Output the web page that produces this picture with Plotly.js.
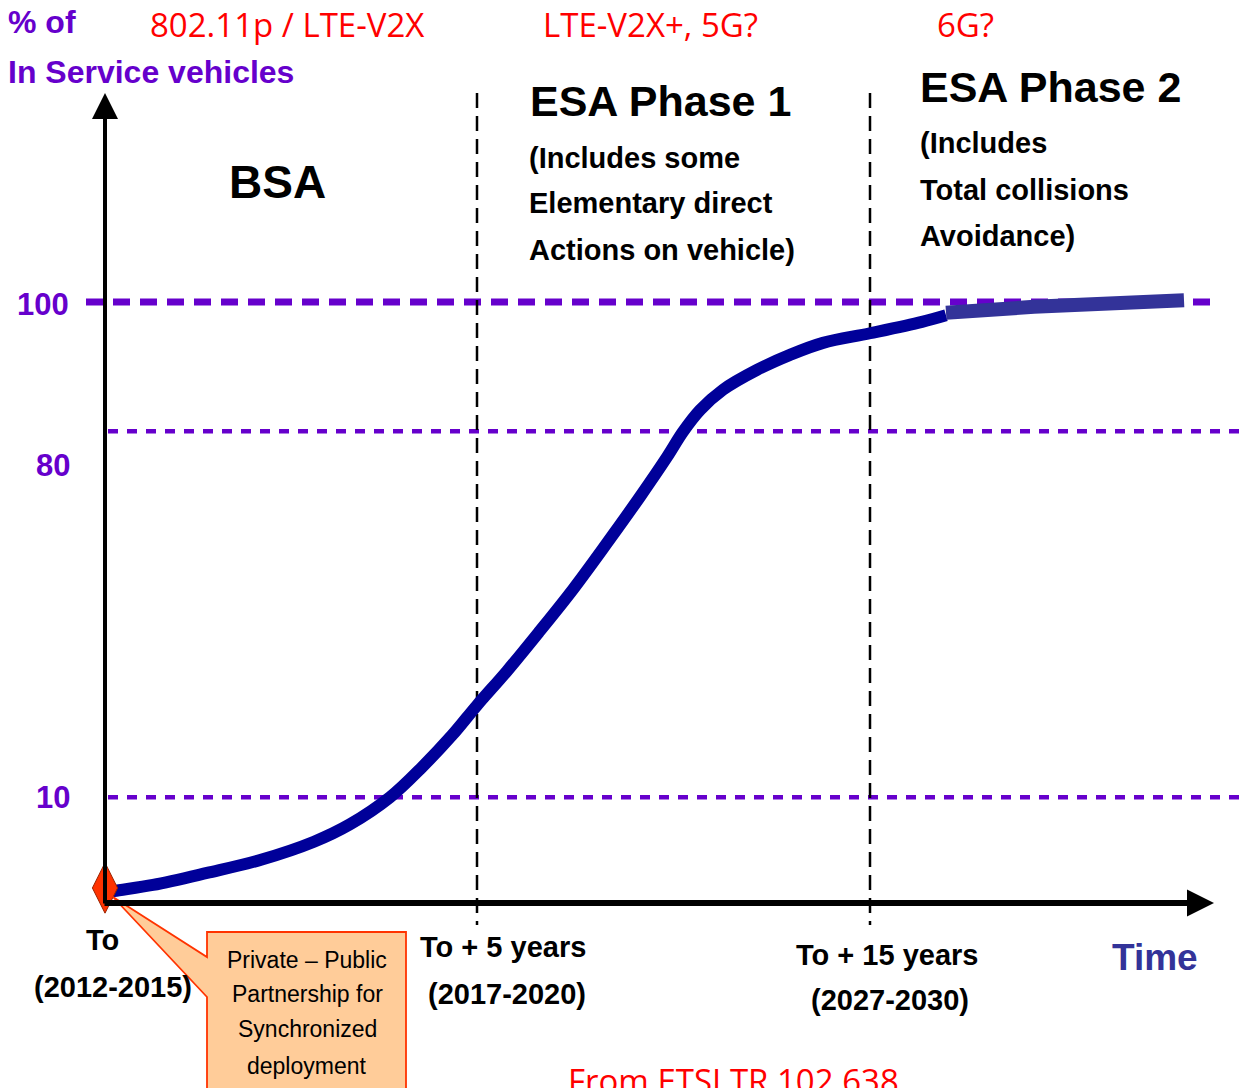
<!DOCTYPE html>
<html>
<head>
<meta charset="utf-8">
<script src="https://cdn.plot.ly/plotly-3.0.1.min.js"></script>
<style>html,body{margin:0;padding:0;background:#fff;}#chart{width:1243px;height:1088px;}</style>
</head>
<body>
<div id="chart"></div>
<script>
// ---------- data (schematic units: x = offset from "To", y = % of in-service vehicles) ----------
const curveX = [0, 9, 48, 102, 156, 209, 245, 285, 317, 347, 372, 402, 435, 468, 502, 535, 562, 578, 595, 618, 652, 685, 718, 765, 817, 841];
const curveY = [1.7, 2.0, 3.0, 5.0, 7.2, 10.2, 13.1, 17.6, 22.6, 27.9, 32.9, 38.6, 45.3, 52.2, 59.9, 67.6, 74.2, 78.4, 82.0, 85.4, 88.7, 91.2, 93.2, 94.8, 96.7, 97.8];
const tailX = [841, 929, 1079];
const tailY = [98.2, 99.2, 100.3];
const startX = [0];
const startY = [2.5];
const refLevels = [100, 78.5, 17.6];
const refLabels = ['100', '80', '10'];
const milestoneX = [0, 372, 765];
const milestoneLabels = ['To', 'To + 5 years', 'To + 15 years'];
const milestoneYears = ['(2012-2015)', '(2017-2020)', '(2027-2030)'];
const techLabels = ['802.11p / LTE-V2X', 'LTE-V2X+, 5G?', '6G?'];

// ---------- page geometry helpers ----------
const W = 1243, H = 1088, X0 = 105, Y0 = 903, Y100 = 302;
const dx = p => p - X0;
const dy = p => (Y0 - p) * 100 / (Y0 - Y100);
const BOLD = '"Liberation Sans", Arial, sans-serif';
const RED = '"Open Sans", "Liberation Sans", sans-serif';
const PURPLE = '#6600CC';

const ann = [];
function T(text, xp, yp, size, color, xanchor, family) {
  ann.push({text: text, xref: 'paper', yref: 'paper', x: xp / W, y: 1 - yp / H,
    xanchor: xanchor || 'center', yanchor: 'middle', showarrow: false,
    font: {size: size, color: color, family: family || BOLD}});
}

// axis label
T('<b>% of</b>', 6, 22, 32, PURPLE, 'left');
T('<b>In Service vehicles</b>', 6, 72, 32, PURPLE, 'left');
// technology labels
T(techLabels[0], 287, 24, 33, '#FF0000', 'center', RED);
T(techLabels[1], 650, 24, 33, '#FF0000', 'center', RED);
T(techLabels[2], 965, 24, 33, '#FF0000', 'center', RED);
// phases
T('<b>BSA</b>', 277, 182, 46, '#000', 'center');
T('<b>ESA Phase 1</b>', 528, 101, 43, '#000', 'left');
T('<b>(Includes some</b>', 527, 158, 29, '#000', 'left');
T('<b>Elementary direct</b>', 527, 203, 29, '#000', 'left');
T('<b>Actions on vehicle)</b>', 527, 250, 29, '#000', 'left');
T('<b>ESA Phase 2</b>', 918, 87, 43, '#000', 'left');
T('<b>(Includes</b>', 918, 143, 29, '#000', 'left');
T('<b>Total collisions</b>', 918, 190, 29, '#000', 'left');
T('<b>Avoidance)</b>', 918, 236, 29, '#000', 'left');
// level labels
T('<b>' + refLabels[0] + '</b>', 43, 305, 31, PURPLE, 'center');
T('<b>' + refLabels[1] + '</b>', 53, 465, 31, PURPLE, 'center');
T('<b>' + refLabels[2] + '</b>', 53, 797, 31, PURPLE, 'center');
// milestones
T('<b>' + milestoneLabels[0] + '</b>', 102, 940, 29, '#000');
T('<b>' + milestoneYears[0] + '</b>', 113, 987, 29, '#000');
T('<b>' + milestoneLabels[1] + '</b>', 503, 947, 29, '#000');
T('<b>' + milestoneYears[1] + '</b>', 507, 994, 29, '#000');
T('<b>' + milestoneLabels[2] + '</b>', 887, 955, 29, '#000');
T('<b>' + milestoneYears[2] + '</b>', 890, 1000, 29, '#000');
T('<b>Time</b>', 1155, 957, 37, '#333399');
// callout text
T('Private – Public', 307, 960, 23, '#000');
T('Partnership for', 307, 994, 23, '#000');
T('Synchronized', 307, 1029, 23, '#000');
T('deployment', 307, 1066, 23, '#000');
// source
T('From ETSI TR 102 638', 566, 1080, 33, '#FF0000', 'left', RED);

// axes as arrows
ann.push({x: dx(1214), y: dy(903), ax: dx(103), ay: dy(903), xref: 'x', yref: 'y', axref: 'x', ayref: 'y',
  text: '', showarrow: true, arrowhead: 2, arrowsize: 0.9, arrowwidth: 6, arrowcolor: '#000'});
ann.push({x: dx(105), y: dy(93), ax: dx(105), ay: dy(905), xref: 'x', yref: 'y', axref: 'x', ayref: 'y',
  text: '', showarrow: true, arrowhead: 2, arrowsize: 1.3, arrowwidth: 4, arrowcolor: '#000'});

const shapes = [];
// reference levels
shapes.push({type: 'line', xref: 'x', yref: 'y', x0: dx(86), x1: dx(1216), y0: refLevels[0], y1: refLevels[0],
  line: {color: PURPLE, width: 7, dash: '17px,10px'}, layer: 'below'});
shapes.push({type: 'line', xref: 'x', yref: 'y', x0: dx(108), x1: dx(1243), y0: refLevels[1], y1: refLevels[1],
  line: {color: PURPLE, width: 4.5, dash: '10px,9px'}, layer: 'below'});
shapes.push({type: 'line', xref: 'x', yref: 'y', x0: dx(108), x1: dx(1243), y0: refLevels[2], y1: refLevels[2],
  line: {color: PURPLE, width: 4.5, dash: '10px,9px'}, layer: 'below'});
// milestone verticals
[milestoneX[1], milestoneX[2]].forEach(function (mx) {
  shapes.push({type: 'line', xref: 'x', yref: 'y', x0: mx, x1: mx, y0: dy(93), y1: dy(925),
    line: {color: '#000', width: 2.5, dash: '15px,8px'}, layer: 'below'});
});
// callout
const cpts = [[207, 932], [406, 932], [406, 1100], [207, 1100], [207, 997], [113, 897], [207, 957]];
shapes.push({type: 'path', xref: 'x', yref: 'y',
  path: 'M' + cpts.map(p => dx(p[0]) + ',' + dy(p[1])).join(' L') + ' Z',
  fillcolor: '#FFCC99', line: {color: '#FF3300', width: 1.8}, layer: 'above'});

const traces = [
  {x: curveX, y: curveY, mode: 'lines', line: {color: '#000099', width: 12, shape: 'spline', smoothing: 1},
   hoverinfo: 'skip'},
  {x: tailX, y: tailY, mode: 'lines', line: {color: '#333399', width: 14}, hoverinfo: 'skip'},
  {x: startX, y: startY, mode: 'markers',
   marker: {symbol: 'diamond-tall', size: 36, color: '#FF3300', line: {color: '#992200', width: 1}},
   hoverinfo: 'skip'}
];

const layout = {
  width: W, height: H, autosize: false,
  margin: {l: 0, r: 0, t: 0, b: 0, pad: 0},
  paper_bgcolor: '#fff', plot_bgcolor: '#fff',
  showlegend: false,
  xaxis: {range: [dx(0), dx(W)], visible: false, fixedrange: true},
  yaxis: {range: [dy(H), dy(0)], visible: false, fixedrange: true},
  shapes: shapes,
  annotations: ann
};

Plotly.newPlot('chart', traces, layout, {staticPlot: true, displayModeBar: false});
</script>
</body>
</html>
